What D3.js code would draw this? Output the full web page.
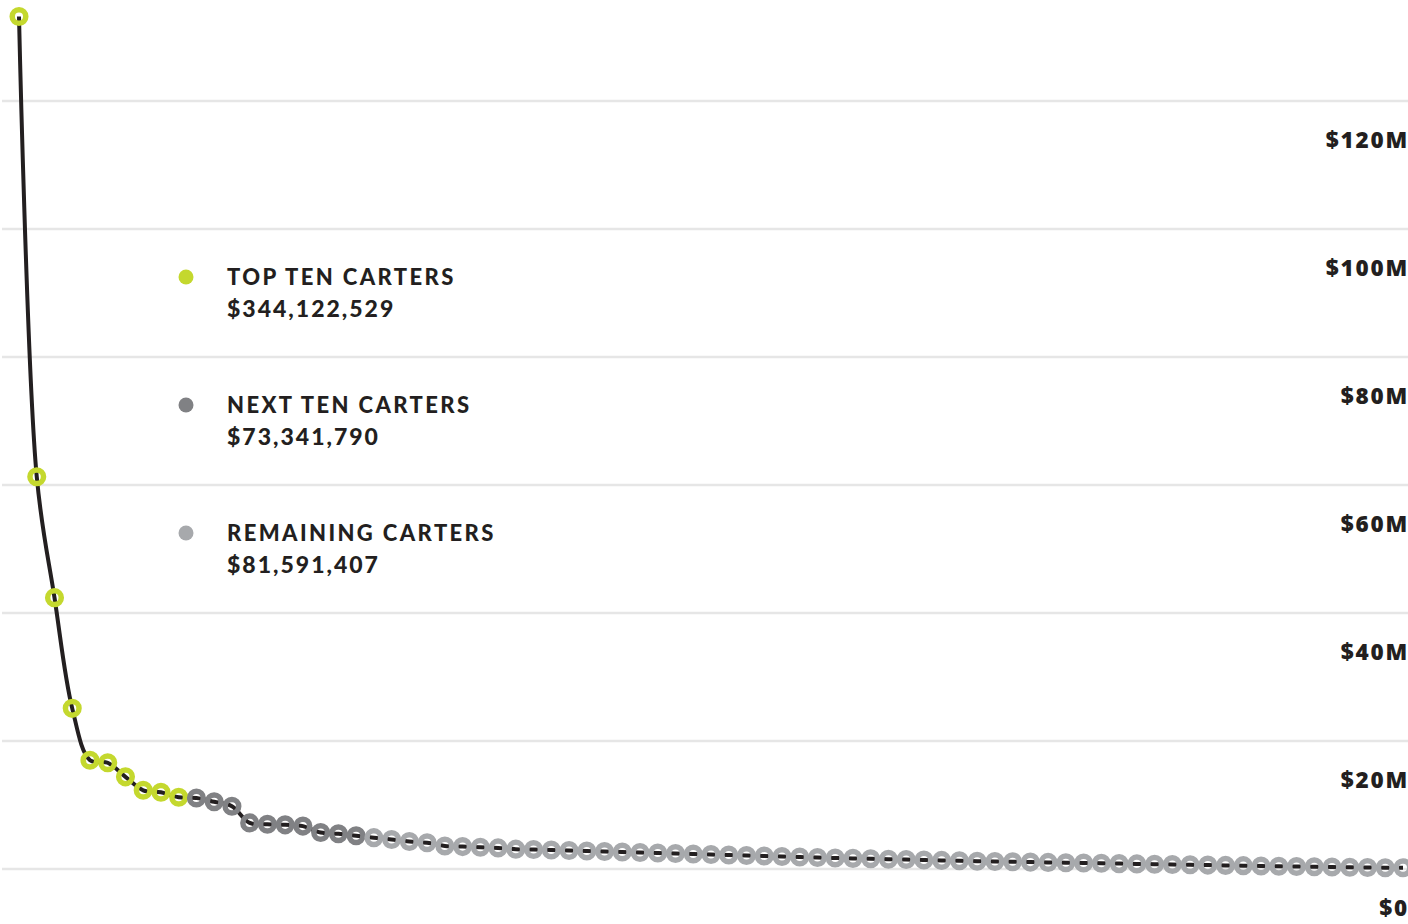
<!DOCTYPE html>
<html>
<head>
<meta charset="utf-8">
<script src="https://cdn.jsdelivr.net/npm/d3@7"></script>
<style>
  html, body { margin: 0; padding: 0; background: #fff; overflow: hidden; }
  svg { display: block; }
</style>
</head>
<body>
<svg id="chart" width="1408" height="924"></svg>
<script>
// ---- Data (values in $ millions) ----
const topTen = [133.2, 61.3, 42.4, 25.1, 17.0, 16.6, 14.4, 12.3, 12.0, 11.2];
const nextTen = [11.1, 10.5, 9.8, 7.2, 7.0, 6.9, 6.7, 5.7, 5.5, 5.2];
const remaining = [4.9, 4.6, 4.3, 4.1, 3.6, 3.5, 3.4, 3.3, 3.1, 3.05, 2.97,
  2.89, 2.81, 2.73, 2.66, 2.58, 2.5, 2.42, 2.34, 2.27, 2.19,
  2.11, 2.03, 1.95, 1.88, 1.8, 1.72, 1.66, 1.59, 1.53, 1.48,
  1.41, 1.34, 1.28, 1.22, 1.17, 1.13, 1.08, 1.03, 0.98, 0.94,
  0.89, 0.84, 0.8, 0.75, 0.7, 0.66, 0.61, 0.56, 0.52, 0.47,
  0.42, 0.39, 0.34, 0.31, 0.27, 0.23, 0.2, 0.19];
const groupNames = ["TOP TEN CARTERS", "NEXT TEN CARTERS", "REMAINING CARTERS"];
const groupTotals = ["$344,122,529", "$73,341,790", "$81,591,407"];
const tickValues = [0, 20, 40, 60, 80, 100, 120];
const tickLabels = ["$0", "$20M", "$40M", "$60M", "$80M", "$100M", "$120M"];

const colors = ["#c4d82e", "#808184", "#a7a9ac"];
const ink = "#231f20";

const points = [];
[topTen, nextTen, remaining].forEach((arr, g) => arr.forEach(v => points.push({ v, g })));
points.forEach((p, i) => p.i = i);

const svg = d3.select("#chart");
const x = d3.scaleLinear().domain([0, points.length - 1]).range([19, 1403]);
const y = d3.scaleLinear().domain([0, 120]).range([869, 101]);

// Gridlines
const grid = svg.append("g").attr("class", "grid");
grid.selectAll("line").data(tickValues).join("line")
  .attr("x1", 2).attr("x2", 1408)
  .attr("y1", d => y(d)).attr("y2", d => y(d))
  .attr("stroke", "#e6e6e6").attr("stroke-width", 2.5);

// Axis labels (right aligned, below gridline)
const yAxis = d3.axisRight(y).tickValues(tickValues)
  .tickFormat((d, i) => tickLabels[i]).tickSize(0).tickPadding(0);
const ax = svg.append("g").attr("transform", "translate(1409,39)").call(yAxis);
ax.select(".domain").remove();
ax.selectAll("text")
  .attr("text-anchor", "end").attr("x", 0)
  .style("font-family", "'Open Sans', sans-serif")
  .style("font-weight", 800).style("font-size", "22.5px")
  .style("letter-spacing", "1.8px").attr("fill", ink);

// Line
const line = d3.line().x(d => x(d.i)).y(d => y(d.v)).curve(d3.curveCatmullRom.alpha(0.5));
svg.append("path").datum(points)
  .attr("d", line).attr("fill", "none")
  .attr("stroke", ink).attr("stroke-width", 4);

// Ring markers
svg.append("g").selectAll("circle").data(points).join("circle")
  .attr("cx", d => x(d.i)).attr("cy", d => y(d.v))
  .attr("r", 6.8).attr("fill", "none")
  .attr("stroke", d => colors[d.g]).attr("stroke-width", 5.5);

// Legend
const legend = svg.append("g");
groupNames.forEach((name, k) => {
  const gy = 277 + k * 128;
  legend.append("circle").attr("cx", 186).attr("cy", gy).attr("r", 7.5).attr("fill", colors[k]);
  legend.append("text").attr("x", 227).attr("y", gy + 8)
    .text(name)
    .style("font-family", "Lato, sans-serif").style("font-weight", 900)
    .style("font-size", "22px").style("letter-spacing", "2.4px").attr("fill", ink);
  legend.append("text").attr("x", 227).attr("y", gy + 40)
    .text(groupTotals[k])
    .style("font-family", "Lato, sans-serif").style("font-weight", 900)
    .style("font-size", "23px").style("letter-spacing", "2px").attr("fill", ink);
});
</script>
</body>
</html>
